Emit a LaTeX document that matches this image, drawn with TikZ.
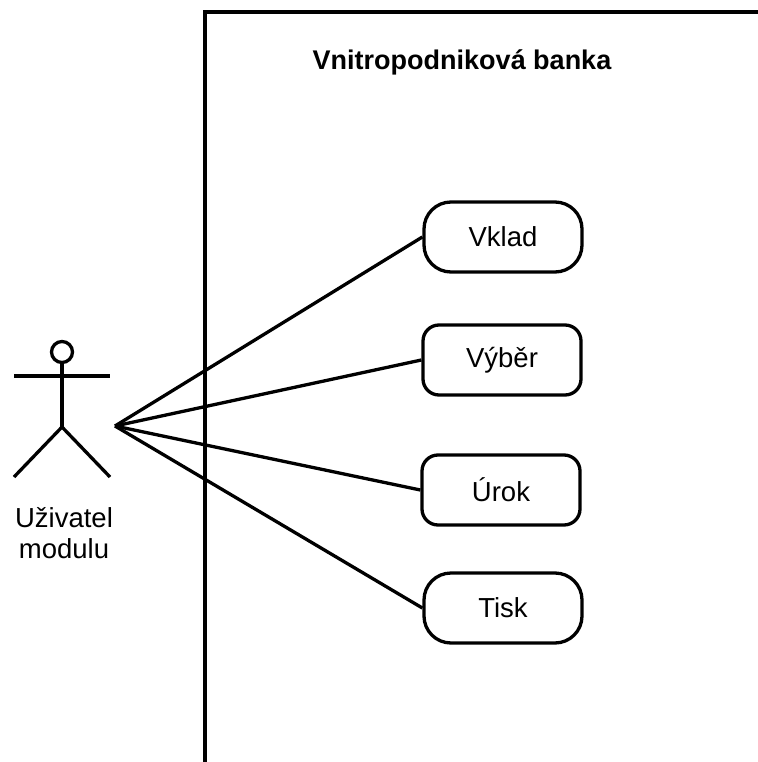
\documentclass[tikz,border=0pt]{standalone}
\usepackage{fontspec}
\setmainfont{Liberation Sans}
\begin{document}
\begin{tikzpicture}[x=1pt,y=-1pt,
  line/.style={line width=3.3pt},
  usecase/.style={draw,line width=3.3pt,minimum width=158pt,minimum height=70pt,inner sep=0pt,font=\fontsize{27.5}{30}\selectfont},
  lbl/.style={font=\fontsize{27.5}{31}\selectfont,align=center,inner sep=0pt}]
\useasboundingbox (0,0) rectangle (757,762);
% system boundary
\draw[line] (760,12) -- (205,12) -- (205,765);
\node[font=\bfseries\fontsize{27}{30}\selectfont,inner sep=0pt] (title) at (462,62) {Vnitropodniková banka};
% actor
\draw[line] (62,352) circle (10.5);
\draw[line] (62,362.5) -- (62,427);
\draw[line] (14,376) -- (110,376);
\draw[line] (14,477) -- (62,427) -- (110,477);
\coordinate (actor) at (115,426);
\node[lbl] (actorlbl) at (64,533) {Uživatel\\modulu};
% use cases
\node[usecase,rounded corners=27pt] (vklad) at (503,237) {Vklad};
\node[usecase,rounded corners=16pt] (vyber) at (502,360) {Výběr};
\node[usecase,rounded corners=16pt] (urok) at (501,490) {Úrok};
\node[usecase,rounded corners=27pt] (tisk) at (503,608) {Tisk};
% connectors
\draw[line] (actor) -- (vklad.west);
\draw[line] (actor) -- (vyber.west);
\draw[line] (actor) -- (urok.west);
\draw[line] (actor) -- (tisk.west);
\end{tikzpicture}
\end{document}
